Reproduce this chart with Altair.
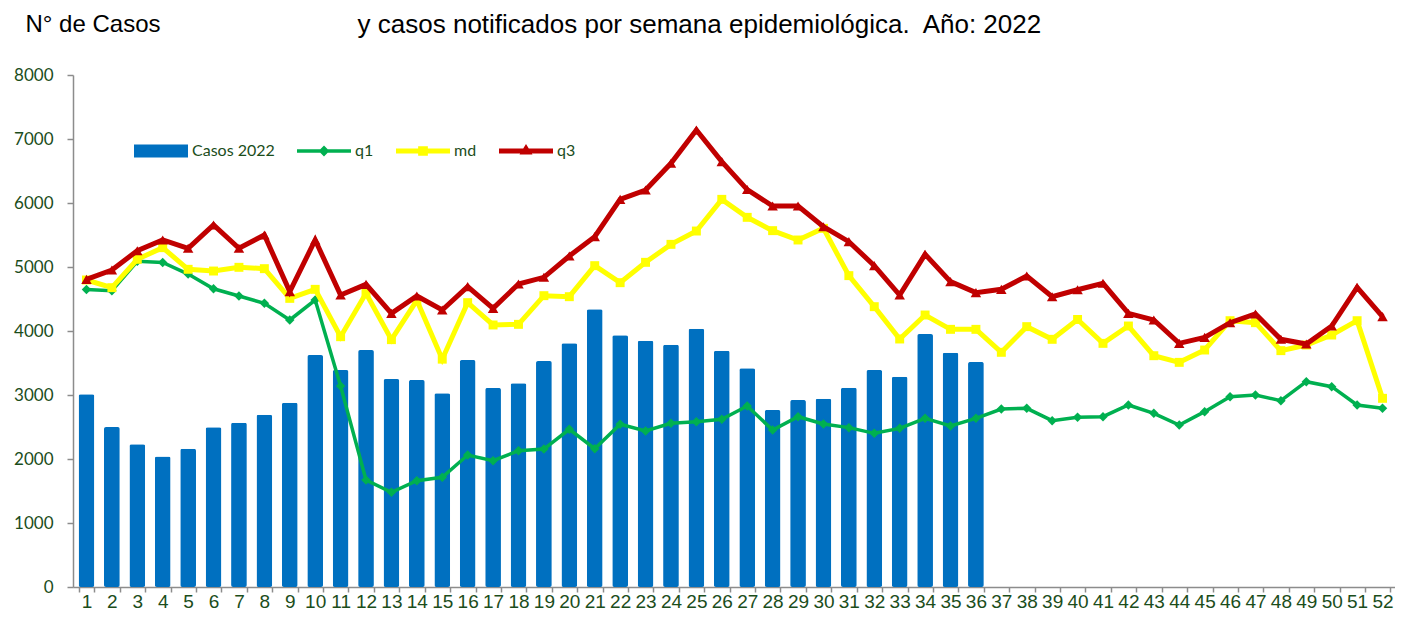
import altair as alt
import pandas as pd

weeks = list(range(1, 53))

casos_2022 = [3010, 2500, 2230, 2040, 2160, 2495, 2567, 2692, 2880, 3625,
              3390, 3703, 3250, 3234, 3026, 3547, 3110, 3183, 3531, 3807,
              4339, 3932, 3849, 3786, 4036, 3693, 3417, 2766, 2922, 2943,
              3115, 3391, 3286, 3953, 3661, 3516]

q1 = [4650, 4630, 5090, 5070, 4890, 4660, 4547, 4432, 4172, 4484,
      3140, 1672, 1480, 1661, 1714, 2062, 1974, 2130, 2156, 2464,
      2161, 2542, 2437, 2557, 2583, 2620, 2828, 2453, 2661, 2547,
      2490, 2401, 2479, 2635, 2516, 2635, 2781, 2792, 2599, 2651,
      2661, 2844, 2714, 2531, 2740, 2974, 3000, 2911, 3208, 3130,
      2844, 2792]

md = [4797, 4677, 5120, 5302, 4964, 4937, 4995, 4974, 4510, 4651,
      3911, 4589, 3865, 4480, 3560, 4443, 4094, 4104, 4552, 4536,
      5021, 4755, 5073, 5354, 5562, 6057, 5776, 5568, 5422, 5604,
      4865, 4380, 3875, 4250, 4026, 4026, 3667, 4068, 3870, 4180,
      3807, 4078, 3614, 3510, 3703, 4161, 4130, 3693, 3781, 3937,
      4161, 2948]

q3 = [4807, 4953, 5255, 5422, 5292, 5656, 5292, 5500, 4615, 5422,
      4562, 4729, 4276, 4547, 4328, 4693, 4354, 4734, 4839, 5172,
      5474, 6057, 6203, 6620, 7140, 6646, 6210, 5953, 5953, 5630,
      5396, 5021, 4562, 5198, 4771, 4599, 4651, 4859, 4536, 4645,
      4745, 4276, 4172, 3807, 3901, 4130, 4266, 3870, 3797, 4078,
      4682, 4224]

series_names = ["Casos 2022", "q1", "md", "q3"]
series_colors = ["#0070C0", "#00B050", "#FFFF00", "#C00000"]
# legend glyphs: wide swatch for the bars, line + marker for the quartile series
series_glyphs = [
    "M-1,-0.24H1V0.24H-1Z",
    "M-1,-0.065H1V0.065H-1Z M0,-0.2L0.2,0L0,0.2L-0.2,0Z",
    "M-1,-0.09H1V0.09H-1Z M-0.18,-0.18H0.18V0.18H-0.18Z",
    "M-1,-0.09H1V0.09H-1Z M0,-0.26L0.24,0.13L-0.24,0.13Z",
]

line_series = [("q1", q1, "#00B050", "diamond", 3.5, 90),
               ("md", md, "#FFFF00", "square", 5, 80),
               ("q3", q3, "#C00000", "triangle-up", 5, 110)]

GREEN_TXT = "#1B4D1B"
AXIS_GRAY = "#8C8C8C"

x_enc = alt.X(
    "semana:O",
    scale=alt.Scale(domain=weeks, range=[0, 1323], paddingInner=0.38, paddingOuter=0.22),
    axis=alt.Axis(
        title=None, labelAngle=0, labelFont="Liberation Sans", labelFontSize=19,
        labelColor=GREEN_TXT, labelPadding=0, tickBand="extent", tickSize=5,
        domainColor=AXIS_GRAY, tickColor=AXIS_GRAY, domainWidth=1.5, tickWidth=1.5,
        labelOverlap=False, labelBound=False,
    ),
)

y_enc = alt.Y(
    "valor:Q",
    scale=alt.Scale(domain=[0, 8000], nice=False),
    axis=alt.Axis(
        title="N° de Casos", titleAngle=0, titleAlign="left", titleBaseline="alphabetic",
        titleX=-48, titleY=-44, titleFont="Liberation Sans", titleFontSize=24,
        titleFontWeight="normal", titleColor="#000000",
        values=[0, 1000, 2000, 3000, 4000, 5000, 6000, 7000, 8000], format="d",
        labelFont="Lato", labelFontSize=17, labelColor=GREEN_TXT,
        labelPadding=14, tickSize=6, grid=False,
        domainColor=AXIS_GRAY, tickColor=AXIS_GRAY, domainWidth=1.5, tickWidth=1.5,
    ),
)

bars_df = pd.DataFrame({"semana": weeks[:len(casos_2022)], "valor": casos_2022})

layers = [
    alt.Chart(bars_df).mark_bar(cornerRadius=2, color="#0070C0").encode(x=x_enc, y=y_enc)
]

for name, vals, col, shp, sw, sz in line_series:
    df = pd.DataFrame({"semana": weeks, "valor": vals})
    base = alt.Chart(df).encode(x=x_enc, y=y_enc)
    layers.append(base.mark_line(color=col, strokeWidth=sw))
    layers.append(base.mark_point(color=col, filled=True, opacity=1, shape=shp, size=sz))

legend_cfg = alt.Legend(
    title=None, orient="none", legendX=61, legendY=49, direction="horizontal",
    symbolSize=2916, symbolStrokeWidth=0, symbolOpacity=1,
    labelFont="Lato", labelFontSize=16, labelColor=GREEN_TXT,
    columnPadding=22, labelOffset=4, padding=0,
)

legend_df = pd.DataFrame({"semana": [1], "valor": [0], "serie": ["Casos 2022"]})
legend_layer = alt.Chart(legend_df).transform_filter("false").mark_point(
    filled=True, opacity=1
).encode(
    x=x_enc,
    y=y_enc,
    fill=alt.Fill("serie:N", scale=alt.Scale(domain=series_names, range=series_colors),
                  legend=legend_cfg),
    shape=alt.Shape("serie:N", scale=alt.Scale(domain=series_names, range=series_glyphs),
                    legend=legend_cfg),
)
layers.append(legend_layer)

chart = alt.layer(*layers).properties(
    width=1322,
    height=512,
    padding={"left": 65, "top": 67, "right": 0, "bottom": 24},
    autosize=alt.AutoSizeParams(type="none"),
    title=alt.TitleParams(
        "y casos notificados por semana epidemiológica.\u00a0 Año: 2022",
        font="Liberation Sans", fontSize=26, fontWeight="normal", color="#000000",
        anchor="start", dx=344, offset=-26,
    ),
).configure_view(stroke=None)

chart.save("out.html", embed_options={"renderer": "svg", "actions": False})
